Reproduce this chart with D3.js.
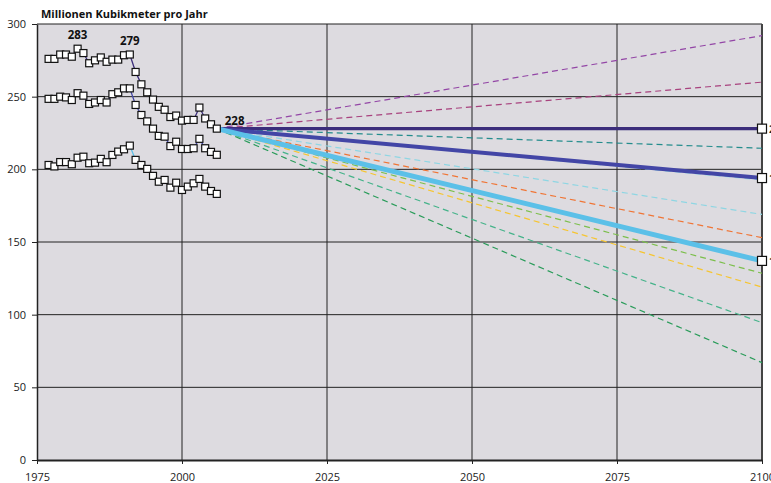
<!DOCTYPE html>
<html>
<head>
<meta charset="utf-8">
<script src="https://cdn.jsdelivr.net/npm/d3@7"></script>
<style>
  body { margin: 0; background: #fff; }
  svg { display: block; font-family: "Open Sans", "DejaVu Sans", sans-serif; }
</style>
</head>
<body>
<svg id="chart" width="771" height="483"></svg>
<script>
// historical data, 1977-2006
const years = d3.range(1977, 2007);
const seriesTop = [276, 276, 279, 279, 277.5, 283, 280, 273, 275, 277, 274, 275.5, 275.5, 278.5, 279,
                   267, 258.5, 253, 248, 243, 241, 236, 237, 233.5, 234, 234, 242.5, 235, 231, 228];
const seriesMid = [248.5, 248.5, 250, 249.5, 247.7, 252.4, 250.7, 245, 246, 247.7, 246, 251.7, 253, 255.7, 255.7,
                   244.3, 237.4, 233, 228, 223, 222.5, 216, 219, 214, 214, 214.5, 221, 214.5, 212, 210];
const seriesLow = [203, 202, 205, 205, 203.5, 208, 208.7, 204.2, 204.6, 207.2, 204.9, 209.9, 212.2, 213.8, 216.3,
                   206.5, 203, 200.3, 195.5, 191.5, 192.7, 187.4, 190.8, 185.8, 188.1, 190.4, 193.4, 188.1, 185.1, 183.1];
const histColors = ["#3b2d7b", "#4346a6", "#5bc0e8"];

// projections from 2006 (228) to 2100
const projStart = [2006, 228];
const dashedEnds = [292, 260, 214.5, 192.7, 169, 153, 136.5, 128.5, 119, 94.5, 67];
const dashedColors = ["#9346a6", "#a8427e", "#238c8c", "#93d8e4", "#8fd6e3", "#f07535", "#f3a040",
                      "#7cbf4c", "#f6c530", "#45b38a", "#2a9c5a"];
const solidEnds = [228, 194, 137];
const solidColors = ["#3b2d7b", "#4346a6", "#5bc0e8"];
const solidWidths = [3.2, 4, 5];

const labels = [[1982, 283, "283"], [1991, 279, "279"], [2006, 228, "228"]];
const xTicks = [1975, 2000, 2025, 2050, 2075, 2100];
const yTicks = [0, 50, 100, 150, 200, 250, 300];

const svg = d3.select("#chart");
const mLeft = 37, mRight = 762, mTop = 24, mBottom = 460;
const x = d3.scaleLinear().domain([1975, 2100]).range([mLeft, mRight]);
const y = d3.scaleLinear().domain([0, 300]).range([mBottom, mTop]);

// plot background
svg.append("rect").attr("x", mLeft).attr("y", mTop)
   .attr("width", mRight - mLeft).attr("height", mBottom - mTop)
   .attr("fill", "#dddbe0");

// grid
svg.append("g").selectAll("line").data(yTicks.filter(d => d > 0 && d < 300)).join("line")
   .attr("x1", mLeft).attr("x2", mRight).attr("y1", d => y(d)).attr("y2", d => y(d))
   .attr("stroke", "#222").attr("stroke-width", 1);
svg.append("g").selectAll("line").data(xTicks.filter(d => d > 1975 && d < 2100)).join("line")
   .attr("y1", mTop).attr("y2", mBottom).attr("x1", d => x(d)).attr("x2", d => x(d))
   .attr("stroke", "#222").attr("stroke-width", 1);
// frame top and right
svg.append("line").attr("x1", mLeft).attr("x2", mRight).attr("y1", mTop).attr("y2", mTop)
   .attr("stroke", "#222").attr("stroke-width", 1.2);
svg.append("line").attr("x1", mRight).attr("x2", mRight).attr("y1", mTop).attr("y2", mBottom)
   .attr("stroke", "#444").attr("stroke-width", 2);

// axes
const yAxis = svg.append("g").attr("transform", `translate(${mLeft},0)`)
   .call(d3.axisLeft(y).tickValues(yTicks).tickSize(5).tickSizeOuter(0).tickPadding(6));
const xAxis = svg.append("g").attr("transform", `translate(0,${mBottom})`)
   .call(d3.axisBottom(x).tickValues(xTicks).tickFormat(d3.format("d")).tickSize(4).tickSizeOuter(0).tickPadding(9));
[yAxis, xAxis].forEach(a => {
  a.selectAll("text").attr("font-size", 11).attr("fill", "#222")
   .attr("font-family", "'Liberation Sans Narrow', 'Open Sans', sans-serif");
  a.selectAll("line").attr("stroke", "#222");
  a.select(".domain").attr("stroke", "#222").attr("stroke-width", 1.5);
});
xAxis.select(".domain").attr("stroke-width", 2);

// dashed projections
const line = d3.line().x(d => x(d[0])).y(d => y(d[1]));
dashedEnds.forEach((v, i) => {
  svg.append("path").datum([projStart, [2100, v]])
     .attr("d", line).attr("fill", "none")
     .attr("stroke", dashedColors[i]).attr("stroke-width", 1.2)
     .attr("stroke-dasharray", "6,4");
});

// historical lines
[seriesTop, seriesMid, seriesLow].forEach((s, i) => {
  const pts = years.map((yr, j) => [yr, s[j]]);
  svg.append("path").datum(pts).attr("d", line).attr("fill", "none")
     .attr("stroke", histColors[i]).attr("stroke-width", 1.3);
});

// solid projections
solidEnds.forEach((v, i) => {
  svg.append("path").datum([projStart, [2100, v]])
     .attr("d", line).attr("fill", "none")
     .attr("stroke", solidColors[i]).attr("stroke-width", solidWidths[i]);
});

// square markers
const sq = 7;
[seriesTop, seriesMid, seriesLow].forEach(s => {
  svg.append("g").selectAll("rect").data(years.map((yr, j) => [yr, s[j]])).join("rect")
     .attr("x", d => x(d[0]) - sq / 2).attr("y", d => y(d[1]) - sq / 2)
     .attr("width", sq).attr("height", sq)
     .attr("fill", "#fff").attr("stroke", "#111").attr("stroke-width", 1.2);
});
svg.append("g").selectAll("rect").data(solidEnds).join("rect")
   .attr("x", x(2100) - 4.5).attr("y", d => y(d) - 4.5)
   .attr("width", 9).attr("height", 9)
   .attr("fill", "#fff").attr("stroke", "#111").attr("stroke-width", 1.2);
svg.append("g").selectAll("text").data(solidEnds).join("text")
   .attr("x", x(2100) + 7).attr("y", d => y(d) + 4)
   .attr("font-size", 11).attr("font-weight", "bold").attr("fill", "#222")
   .text(d => Math.round(d));

// value labels
svg.append("g").selectAll("text").data(labels).join("text")
   .attr("x", d => x(d[0]) + (d[2] === "228" ? 8 : 0))
   .attr("y", d => d[2] === "228" ? y(d[1]) - 4 : y(d[1]) - 10)
   .attr("text-anchor", d => d[2] === "228" ? "start" : "middle")
   .attr("font-size", 11.5).attr("font-weight", "bold").attr("fill", "#111")
   .text(d => d[2]);

// title
svg.append("text").attr("x", 41).attr("y", 18)
   .attr("font-size", 11).attr("font-weight", "bold").attr("fill", "#111")
   .text("Millionen Kubikmeter pro Jahr");
</script>
</body>
</html>
